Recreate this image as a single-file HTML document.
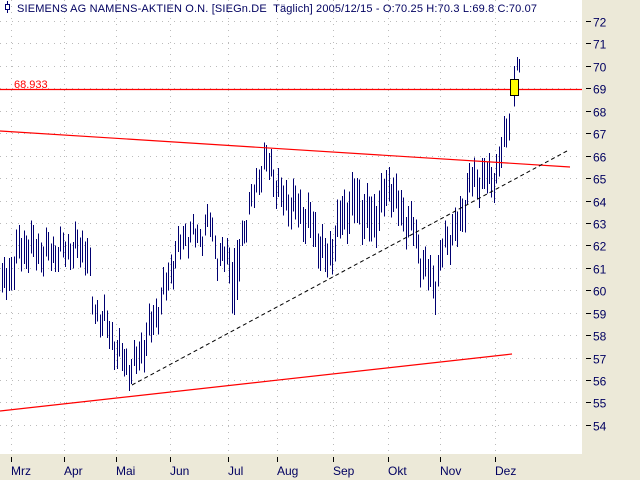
<!DOCTYPE html>
<html><head><meta charset="utf-8"><style>
body{margin:0;width:640px;height:480px;overflow:hidden;background:#ece9d8;font-family:"Liberation Sans",sans-serif}
svg{display:block}
</style></head><body>
<svg id="s" width="640" height="480" xmlns="http://www.w3.org/2000/svg">
<rect x="0" y="0" width="582" height="454" fill="#fff"/>
<g id="grid"></g>
<g id="bars" shape-rendering="crispEdges"></g>
<line x1="0" y1="131" x2="570" y2="167" stroke="#f00" stroke-width="1.2"/>
<line x1="0" y1="411" x2="512" y2="354" stroke="#f00" stroke-width="1.2"/>
<line x1="0" y1="89.5" x2="582" y2="89.5" stroke="#f00" stroke-width="1.2"/>
<line x1="132" y1="385" x2="567" y2="151" stroke="#000" stroke-width="1" stroke-dasharray="4,3"/>
<rect x="510.5" y="79.5" width="8" height="16" fill="#ff0" stroke="#000" stroke-width="1"/>
<text x="14" y="88" font-size="11" fill="#f00">68.933</text>
<line x1="7.5" y1="1" x2="7.5" y2="13" stroke="#000070"/>
<rect x="5.5" y="4.5" width="4" height="5" fill="#fff" stroke="#000070"/>
<text x="17" y="12" font-size="11" fill="#000060" textLength="520" xml:space="preserve">SIEMENS AG NAMENS-AKTIEN O.N. [SIEGn.DE  Täglich] 2005/12/15 - O:70.25 H:70.3 L:69.8 C:70.07</text>
<g id="ax" font-size="12" fill="#000060"></g>
</svg>
<script>
var ns="http://www.w3.org/2000/svg";
function el(p,t,a,tx){var e=document.createElementNS(ns,t);for(var k in a)e.setAttribute(k,a[k]);if(tx)e.textContent=tx;p.appendChild(e);return e;}
function Y(p){return 21+(72-p)*22.44;}
var g=document.getElementById('grid'),ax=document.getElementById('ax'),b=document.getElementById('bars');
for(var p=54;p<=72;p++){var y=Math.round(Y(p))+0.5;el(g,'line',{x1:0,y1:y,x2:582,y2:y,stroke:'#bbb','stroke-dasharray':'1,5'});
el(ax,'line',{x1:586,y1:y,x2:591,y2:y,stroke:'#000'});el(ax,'text',{x:593,y:y+5},String(p));}
var m=[[11,'Mrz'],[64,'Apr'],[116,'Mai'],[170,'Jun'],[228,'Jul'],[277,'Aug'],[333,'Sep'],[388,'Okt'],[440,'Nov'],[495,'Dez']];
m.forEach(function(a){el(g,'line',{x1:a[0]+0.5,y1:0,x2:a[0]+0.5,y2:454,stroke:'#bbb','stroke-dasharray':'1,5'});
el(ax,'line',{x1:a[0]+0.5,y1:457,x2:a[0]+0.5,y2:462,stroke:'#000'});el(ax,'text',{x:a[0],y:475},a[1]);});
var k=[[1,59.5,60.8],[10,60,61.5],[18,61,62.5],[28,61.2,62.7],[45,61,62.3],[60,61.2,62.3],[75,61.3,62.5],[88,61,62.6],[92,58.8,59.6],[105,58,59.2],[118,56.5,57.8],[132,55.9,57],[145,57,58.5],[160,58.8,60],[172,60.5,61.8],[185,62,63],[200,62,62.8],[210,62.5,63.6],[218,60.8,61.8],[228,61,62.2],[235,58.3,61.5],[242,62,63],[252,63.5,64.5],[262,65,66.2],[270,65,66.2],[280,63.5,64.8],[295,63,64.5],[310,62.2,63.8],[327,60.5,62],[340,62.3,64],[355,63,65],[372,62,64],[390,64,65.5],[400,62.7,64.3],[412,62.2,63.5],[422,60.5,61.8],[435,59.5,61],[445,61.6,62.8],[458,62,63.6],[470,64.2,65.5],[485,64.3,65.7],[497,64.5,65.8],[503,65.8,67.2],[508,67.2,68.4]];
function interp(x){for(var i=0;i<k.length-1;i++){if(x<=k[i+1][0]){var t=(x-k[i][0])/(k[i+1][0]-k[i][0]);return[k[i][1]+t*(k[i+1][1]-k[i][1]),k[i][2]+t*(k[i+1][2]-k[i][2])];}}return[k[k.length-1][1],k[k.length-1][2]];}
for(var x=1.5;x<509;x+=2.45){var r=interp(x);var n=Math.sin(x*1.7)*0.35+Math.sin(x*0.43)*0.3;var lo=r[0]+n,hi=r[1]+n;var xi=Math.round(x)+0.5;
el(b,'line',{x1:xi,y1:Y(hi),x2:xi,y2:Y(lo),stroke:'#000070','stroke-width':1});}
el(b,'line',{x1:514.5,y1:Y(69.6),x2:514.5,y2:Y(68.2),stroke:'#000070'});
el(b,'line',{x1:514.5,y1:Y(70),x2:514.5,y2:Y(69.4),stroke:'#000070'});
el(b,'line',{x1:517.5,y1:Y(70.4),x2:517.5,y2:Y(69.8),stroke:'#000070'});
el(b,'line',{x1:519.5,y1:Y(70.3),x2:519.5,y2:Y(69.7),stroke:'#000070'});
</script>
</body></html>
